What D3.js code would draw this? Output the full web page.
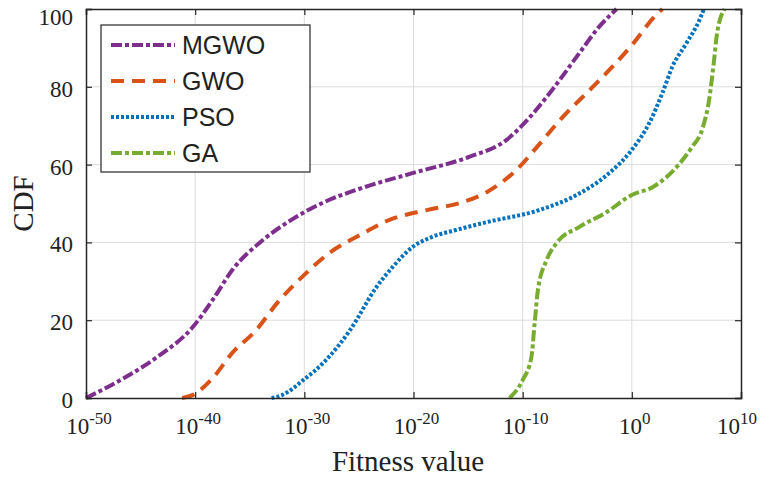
<!DOCTYPE html>
<html>
<head>
<meta charset="utf-8">
<script src="https://cdn.jsdelivr.net/npm/d3@7"></script>
<style>
  body { margin: 0; background: #fff; }
  svg { display: block; }
</style>
</head>
<body>
<svg width="761" height="477"></svg>
<script>
// log10 of the fitness value, and CDF in percent
const mgwoExp = [-50, -46.6, -43.5, -40.2, -38.4, -36.6, -33.8, -31.3, -28.3, -24.7, -20.1, -14.9, -11.5, -10.0, -7.3, -4.8, -3.0, -1.4];
const mgwoCdf = [0, 5, 10.5, 18.3, 25.2, 32.9, 40.6, 45.6, 50.2, 54, 57.8, 62, 66.3, 70.2, 79.2, 88.7, 95.4, 100];

const gwoExp = [-41.2, -40.2, -38.4, -36.6, -34.4, -32.5, -30.1, -27.7, -24.9, -22.2, -18.8, -15.8, -13.3, -10.3, -8.7, -6.4, -3.6, -1.8, 0.0, 2.2, 2.8];
const gwoCdf = [0, 0.8, 5.1, 11.6, 17.5, 24.4, 31.4, 37.3, 41.9, 45.8, 48.3, 50.1, 52.9, 59.4, 64.5, 72, 79.9, 85.1, 90.7, 98.4, 100];

const psoExp = [-33.0, -32.0, -30.1, -28.0, -25.8, -23.4, -21.9, -20.1, -18.3, -16.1, -13.3, -8.5, -5.4, -2.3, 0.0, 1.6, 2.8, 3.7, 5.0, 6.2, 6.6];
const psoCdf = [0, 0.8, 4.6, 9.8, 17.5, 28.5, 33.7, 38.8, 41.4, 43.2, 45.2, 48.3, 51.7, 57.3, 63.8, 70.7, 78.4, 85.1, 91.2, 97.2, 100];

const gaExp = [-11.2, -10.0, -9.2, -8.9, -8.6, -7.8, -6.9, -4.8, -2.3, 0.0, 1.9, 4.3, 5.5, 6.5, 7.1, 7.5, 7.8, 8.5];
const gaCdf = [0, 4.6, 10.5, 19.3, 27.8, 35.5, 39.8, 44, 47.8, 52.2, 54.2, 60, 64.5, 69.5, 77, 86, 93.6, 100];

const seriesNames = ["MGWO", "GWO", "PSO", "GA"];
const xTickExp = [-50, -40, -30, -20, -10, 0, 10];
const yTicks = [0, 20, 40, 60, 80, 100];

const svg = d3.select("svg");
const margin = {left: 86, right: 20, top: 9, bottom: 79};
const width = +svg.attr("width");
const height = +svg.attr("height");
const x0 = margin.left, x1 = width - margin.right;
const y0 = height - margin.bottom, y1 = margin.top;

const x = d3.scaleLog().domain([1e-50, 1e10]).range([x0, x1]);
const y = d3.scaleLinear().domain([0, 100]).range([y0, y1]);

const colors = ["#7E2F8E", "#D95319", "#0072BD", "#77AC30"];
const dashes = ["11,3,4,3", "13,8", "3,2", "11,3,4,3"];

const series = [
  {name: seriesNames[0], exp: mgwoExp, cdf: mgwoCdf},
  {name: seriesNames[1], exp: gwoExp, cdf: gwoCdf},
  {name: seriesNames[2], exp: psoExp, cdf: psoCdf},
  {name: seriesNames[3], exp: gaExp, cdf: gaCdf}
].map((s, i) => ({
  name: s.name,
  color: colors[i],
  dash: dashes[i],
  points: s.exp.map((e, j) => ({v: Math.pow(10, e), c: s.cdf[j]}))
}));

// grid
const grid = svg.append("g").attr("class", "grid");
grid.selectAll("line.gx")
  .data(xTickExp.slice(1, -1))
  .enter().append("line")
  .attr("x1", d => x(Math.pow(10, d))).attr("x2", d => x(Math.pow(10, d)))
  .attr("y1", y0).attr("y2", y1)
  .attr("stroke", "#dcdcdc").attr("stroke-width", 1);
grid.selectAll("line.gy")
  .data(yTicks.slice(1, -1))
  .enter().append("line")
  .attr("x1", x0).attr("x2", x1)
  .attr("y1", d => y(d)).attr("y2", d => y(d))
  .attr("stroke", "#dcdcdc").attr("stroke-width", 1);

// curves
const line = d3.line()
  .x(d => x(d.v))
  .y(d => y(d.c))
  .curve(d3.curveMonotoneX);

const plot = svg.append("g").attr("class", "curves");
plot.selectAll("path")
  .data(series)
  .enter().append("path")
  .attr("d", d => line(d.points))
  .attr("fill", "none")
  .attr("stroke", d => d.color)
  .attr("stroke-width", 4)
  .attr("stroke-dasharray", d => d.dash);

// axes (ticks point inward on all four sides)
const tickLen = 6;
const axisColor = "#262626";
const xAxis = svg.append("g").attr("transform", `translate(0,${y0})`)
  .call(d3.axisBottom(x).tickValues(xTickExp.map(e => Math.pow(10, e))).tickSize(-tickLen).tickFormat(""));
const xAxisTop = svg.append("g").attr("transform", `translate(0,${y1})`)
  .call(d3.axisTop(x).tickValues(xTickExp.map(e => Math.pow(10, e))).tickSize(-tickLen).tickFormat(""));
const yAxis = svg.append("g").attr("transform", `translate(${x0},0)`)
  .call(d3.axisLeft(y).tickValues(yTicks).tickSize(-tickLen).tickFormat(""));
const yAxisRight = svg.append("g").attr("transform", `translate(${x1},0)`)
  .call(d3.axisRight(y).tickValues(yTicks).tickSize(-tickLen).tickFormat(""));
[xAxis, xAxisTop, yAxis, yAxisRight].forEach(a => {
  a.select(".domain").attr("stroke", axisColor).attr("stroke-width", 1.5);
  a.selectAll(".tick line").attr("stroke", axisColor).attr("stroke-width", 1.2);
});

// tick labels
const labelFont = "'Liberation Serif', 'Times New Roman', serif";
svg.append("g").selectAll("text")
  .data(yTicks)
  .enter().append("text")
  .attr("x", x0 - 13)
  .attr("y", d => Math.max(y(d) + 2, 17))
  .attr("dy", "0.35em")
  .attr("text-anchor", "end")
  .attr("font-family", labelFont)
  .attr("font-size", 23)
  .attr("fill", "#222")
  .text(d => d);

const lastExp = xTickExp[xTickExp.length - 1];
const xLabels = svg.append("g").selectAll("text")
  .data(xTickExp)
  .enter().append("text")
  .attr("x", d => d === lastExp ? width - 4 : x(Math.pow(10, d)) + 3)
  .attr("y", y0 + 36)
  .attr("text-anchor", d => d === lastExp ? "end" : "middle")
  .attr("font-family", labelFont)
  .attr("font-size", 23)
  .attr("fill", "#222");
xLabels.append("tspan").text("10");
xLabels.append("tspan")
  .attr("dy", -10)
  .attr("font-size", 17)
  .text(d => d);

// axis titles
svg.append("text")
  .attr("x", 408)
  .attr("y", 471)
  .attr("text-anchor", "middle")
  .attr("font-family", labelFont)
  .attr("font-size", 29)
  .attr("fill", "#222")
  .text("Fitness value");

svg.append("text")
  .attr("transform", `translate(33,${(y0 + y1) / 2}) rotate(-90)`)
  .attr("text-anchor", "middle")
  .attr("font-family", labelFont)
  .attr("font-size", 29)
  .attr("fill", "#222")
  .text("CDF");

// legend
const legend = svg.append("g").attr("transform", "translate(101,25)");
legend.append("rect")
  .attr("width", 209).attr("height", 147)
  .attr("fill", "#fff")
  .attr("stroke", axisColor).attr("stroke-width", 1.2);
const item = legend.selectAll("g.item")
  .data(series)
  .enter().append("g")
  .attr("transform", (d, i) => `translate(0,${20 + i * 36})`);
item.append("line")
  .attr("x1", 10).attr("x2", 74)
  .attr("stroke", d => d.color)
  .attr("stroke-width", 4)
  .attr("stroke-dasharray", d => d.dash);
item.append("text")
  .attr("x", 81)
  .attr("dy", "0.36em")
  .attr("font-family", "'Liberation Sans', Arial, sans-serif")
  .attr("font-size", 25)
  .attr("fill", "#222")
  .text(d => d.name);
</script>
</body>
</html>
